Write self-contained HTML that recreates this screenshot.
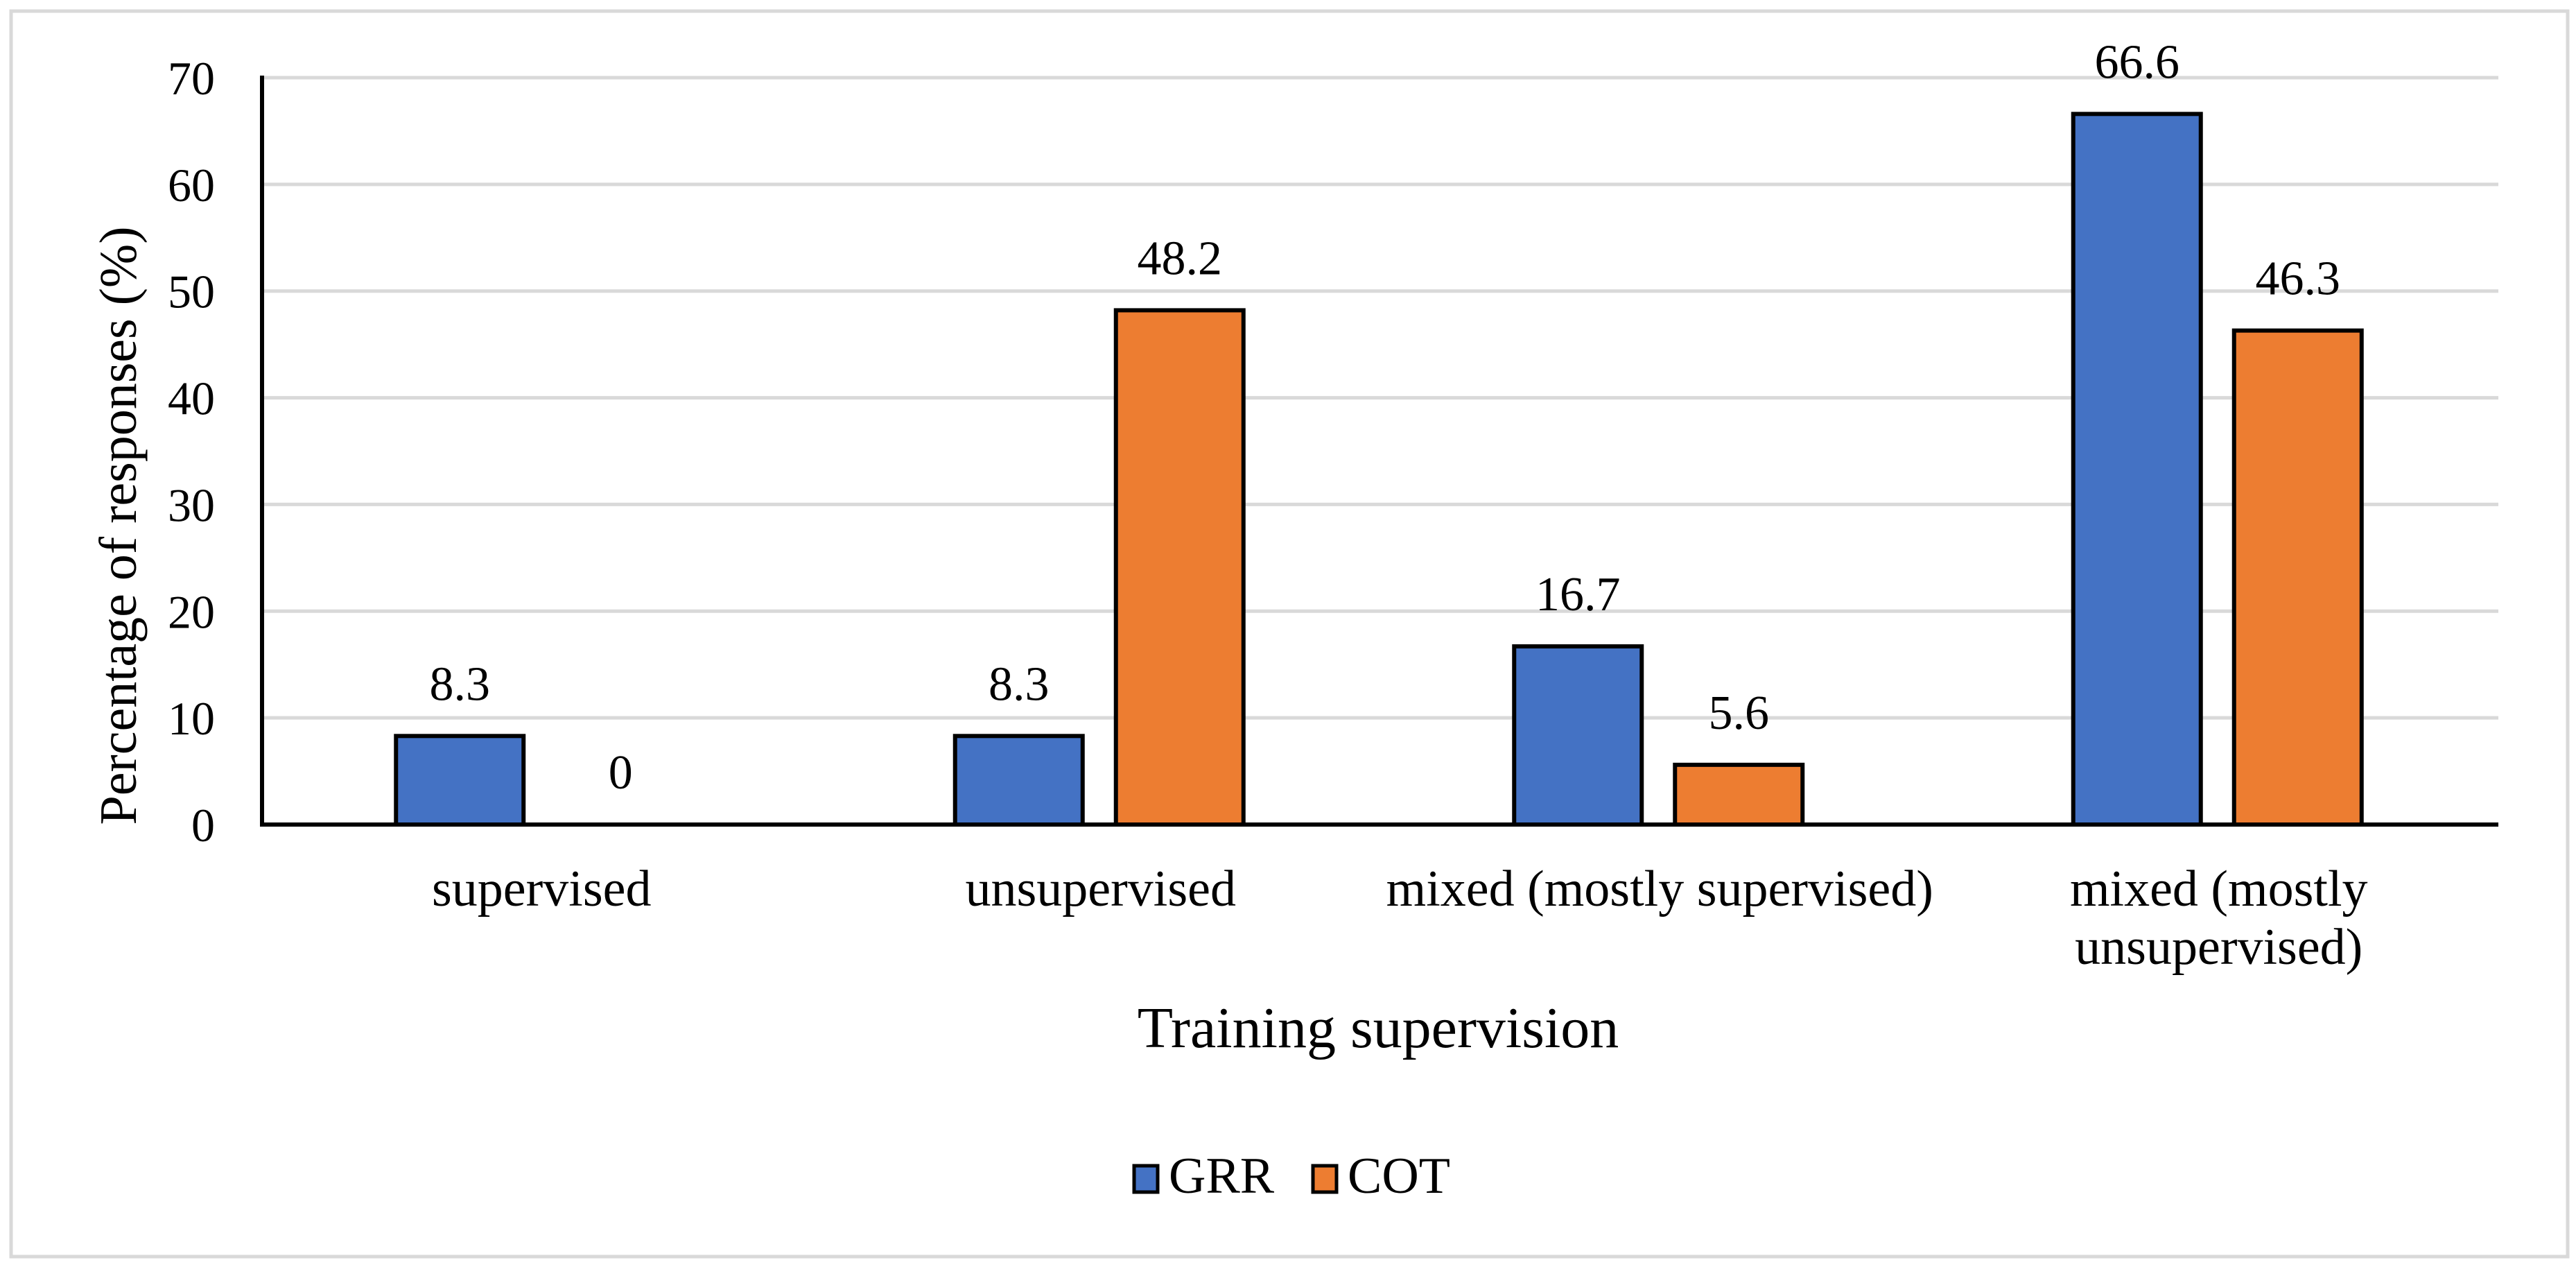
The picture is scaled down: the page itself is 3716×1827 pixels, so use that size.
<!DOCTYPE html>
<html><head><meta charset="utf-8"><style>
html,body{margin:0;padding:0;background:#fff;}
svg{display:block;}
text{font-family:"Liberation Serif",serif;fill:#000;}
</style></head><body>
<svg id="chart" width="3716" height="1827" viewBox="0 0 3716 1827" xmlns="http://www.w3.org/2000/svg">
<rect x="16" y="16" width="3688" height="1796" fill="#fff" stroke="#d9d9d9" stroke-width="5"/>
<g id="grid"></g>
<g id="yticks"></g>
<g id="bars"></g>
<g id="labels"></g>
<g id="xcats"></g>
<text x="0" y="0" transform="translate(196,758) rotate(-90)" text-anchor="middle" font-size="76">Percentage of responses (%)</text>
<text x="1988" y="1510" text-anchor="middle" font-size="84">Training supervision</text>
<g>
<g>
<rect x="1636" y="1681" width="34" height="38" fill="#4472c4" stroke="#000" stroke-width="5"/>
<text x="1686" y="1720" font-size="74">GRR</text>
</g>
<g>
<rect x="1894" y="1681" width="34" height="38" fill="#ed7d31" stroke="#000" stroke-width="5"/>
<text x="1944" y="1720" font-size="74">COT</text>
</g>
</g>
</svg>
<script>
const categories = [["supervised"], ["unsupervised"], ["mixed (mostly supervised)"], ["mixed (mostly", "unsupervised)"]];
const grrValues = [8.3, 8.3, 16.7, 66.6];
const cotValues = [0, 48.2, 5.6, 46.3];
const yTicks = [0, 10, 20, 30, 40, 50, 60, 70];

const NS = "http://www.w3.org/2000/svg";
const plotL = 378, plotR = 3604, yTop = 112, yBot = 1189, yMax = 70;
const yScale = v => yBot - (v / yMax) * (yBot - yTop);
const band = (plotR - plotL) / categories.length;
const xCenter = i => plotL + band * (i + 0.5);
const barW = 184;
function mk(tag, attrs, parent) {
  const e = document.createElementNS(NS, tag);
  for (const k in attrs) e.setAttribute(k, attrs[k]);
  parent.appendChild(e);
  return e;
}
const grid = document.getElementById('grid');
const yt = document.getElementById('yticks');
yTicks.forEach(t => {
  if (t > 0) {
    const l = mk('line', {x1: plotL, x2: plotR, y1: yScale(t), y2: yScale(t), stroke: '#d9d9d9', 'stroke-width': 5}, grid);
    
    
  }
  const tx = mk('text', {x: 310, y: yScale(t) + 24, 'text-anchor': 'end', 'font-size': 68}, yt);
  tx.textContent = t;
  
  
});
const bars = document.getElementById('bars');
const labels = document.getElementById('labels');
const xc = document.getElementById('xcats');
function drawBar(i, v, off, color, series) {
  const cx = xCenter(i) + off;
  if (v > 0) {
    const r = mk('rect', {x: cx - barW / 2, y: yScale(v), width: barW, height: yBot - yScale(v), fill: color, stroke: '#000', 'stroke-width': 6}, bars);
    
    
  }
  const t = mk('text', {x: cx, y: yScale(v) - 52, 'text-anchor': 'middle', 'font-size': 70}, labels);
  t.textContent = v;
  
  
}
categories.forEach((c, i) => {
  drawBar(i, grrValues[i], -118, '#4472c4', 'grr');
  drawBar(i, cotValues[i], 114, '#ed7d31', 'cot');
  c.forEach((line, j) => {
    const t = mk('text', {x: xCenter(i), y: 1306 + j * 84, 'text-anchor': 'middle', 'font-size': 74}, xc);
    t.textContent = line;
    
    
  });
});
const ax = mk('line', {x1: plotL, x2: plotL, y1: yTop - 3, y2: yBot + 3, stroke: '#000', 'stroke-width': 6}, document.getElementById('chart'));


const bx = mk('line', {x1: plotL - 3, x2: plotR, y1: yBot, y2: yBot, stroke: '#000', 'stroke-width': 6}, document.getElementById('chart'));


</script>
</body></html>
